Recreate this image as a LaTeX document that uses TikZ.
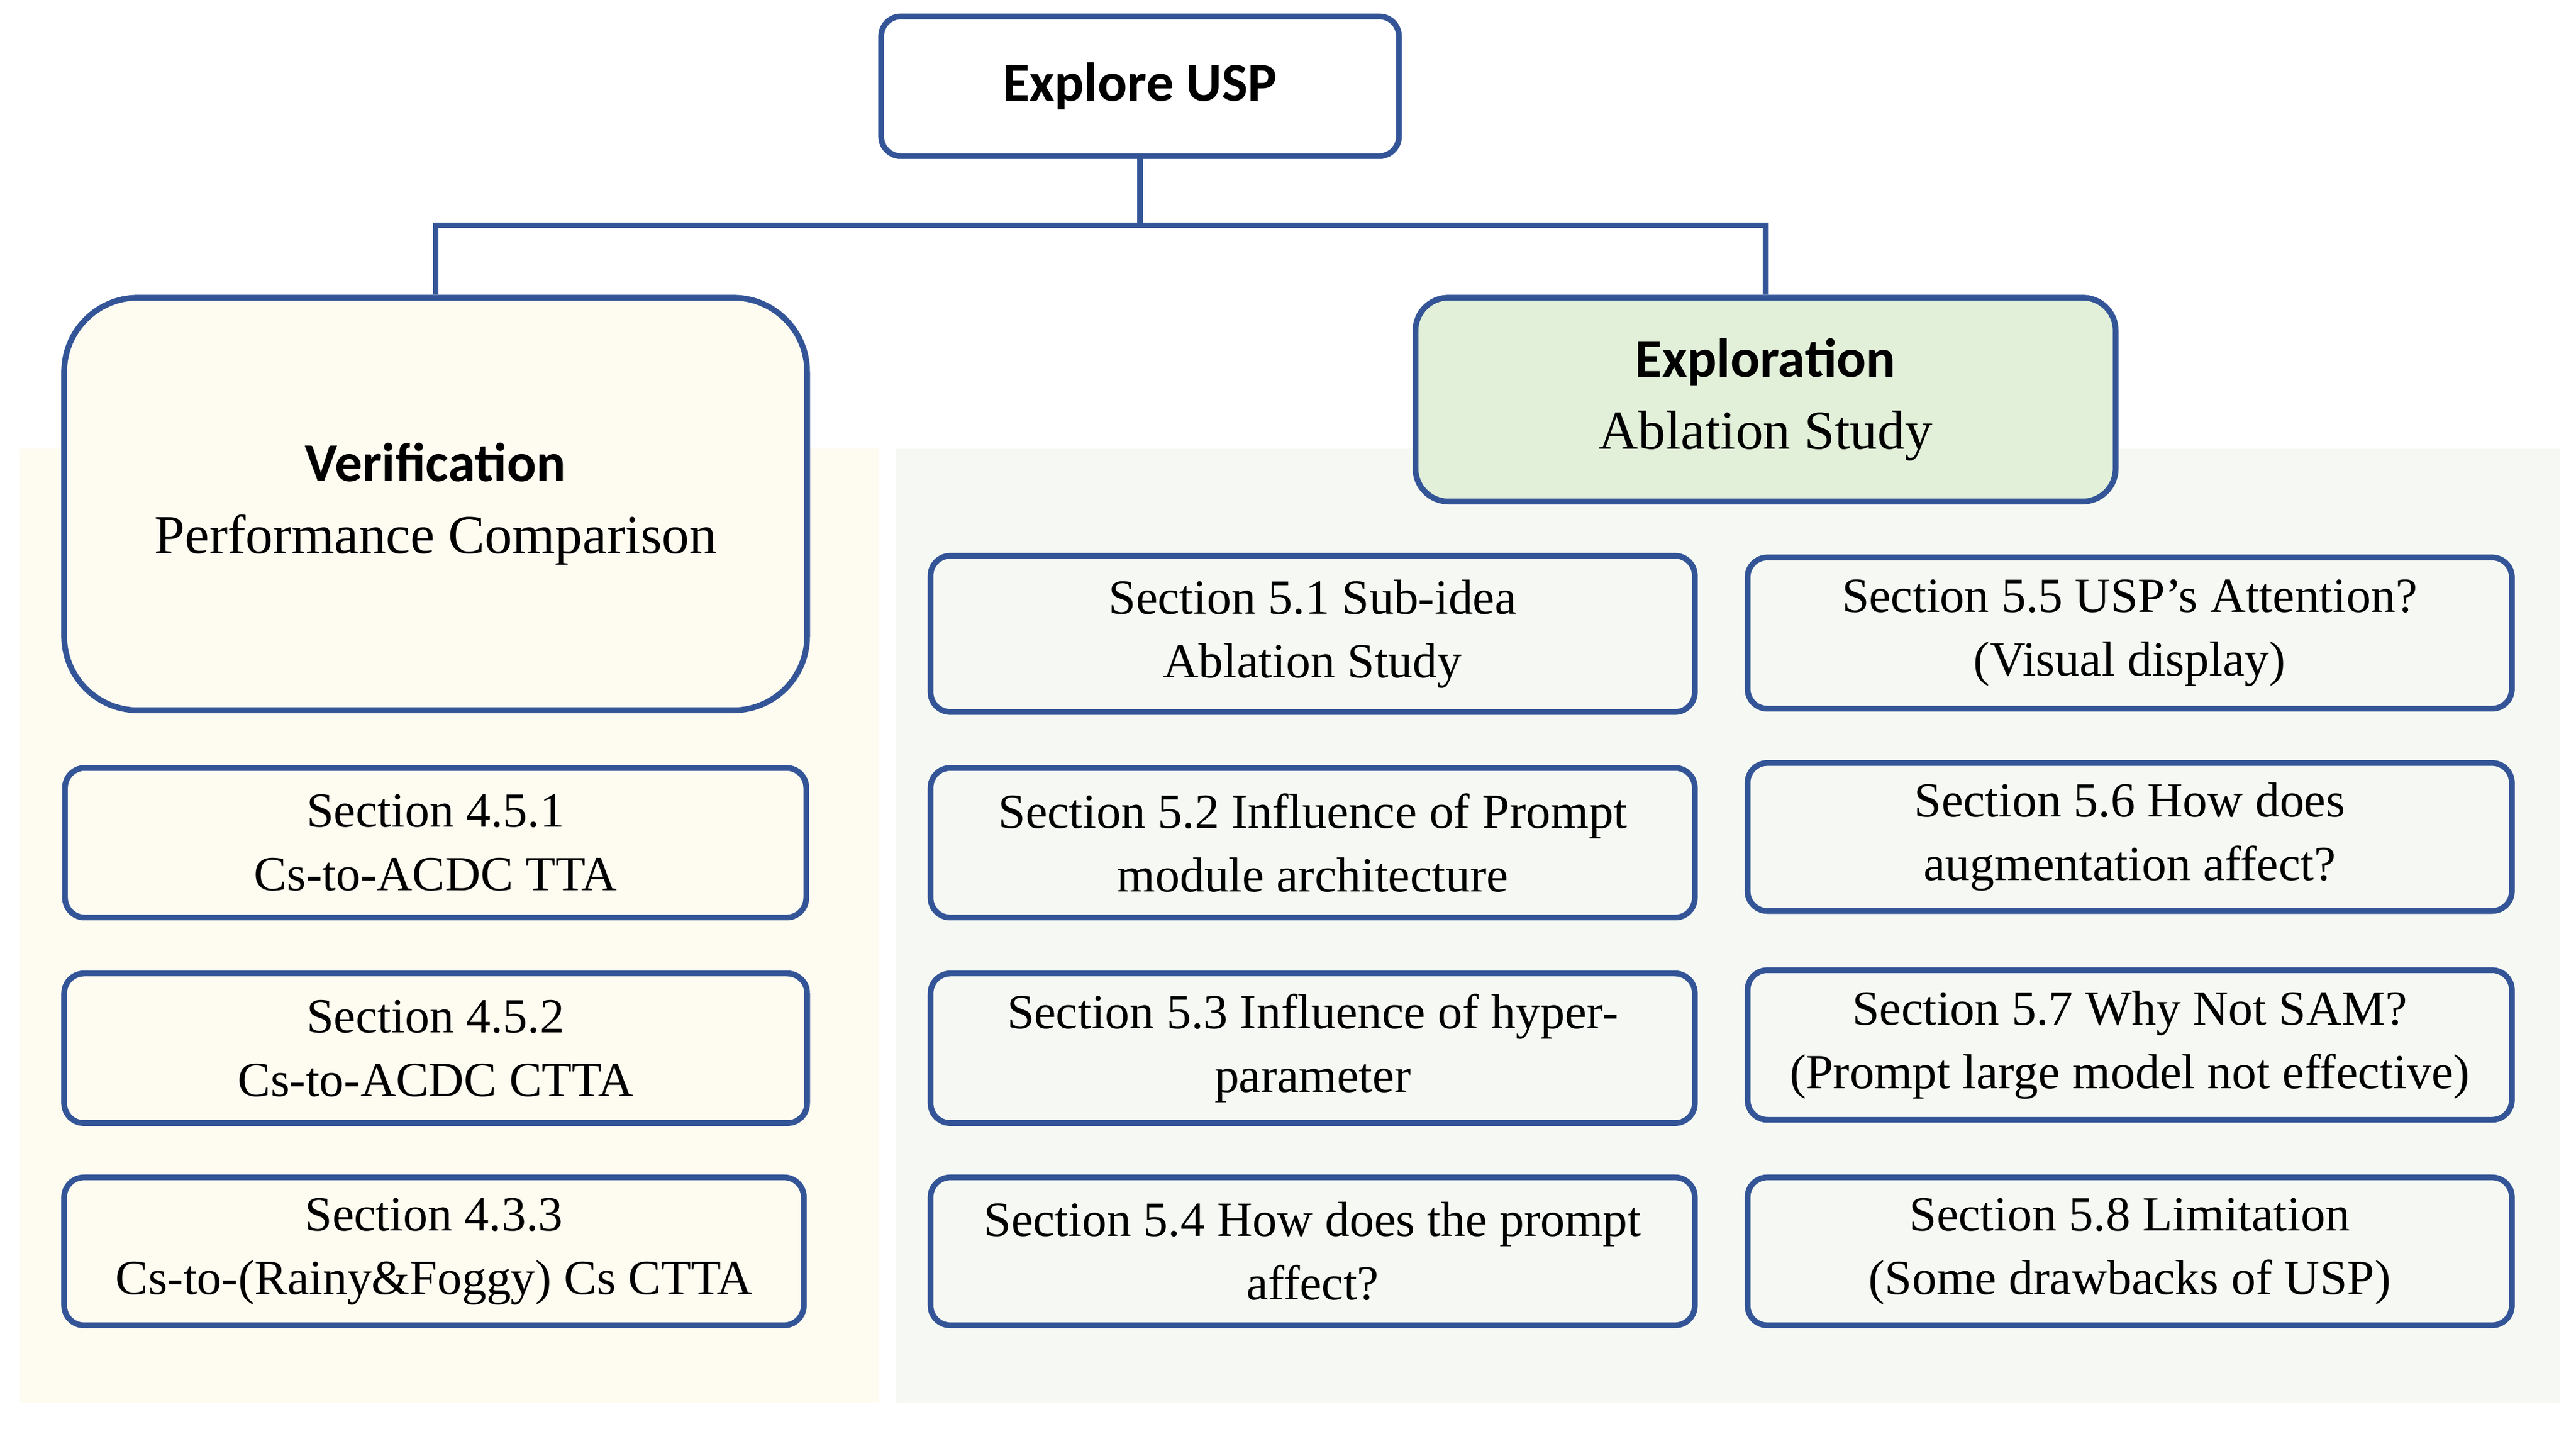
\documentclass[tikz,border=0pt]{standalone}
\usepackage{fontspec}
\setmainfont{Liberation Serif}
\newfontfamily\otsikko{Carlito}
\usepackage{tikz}

\definecolor{reuna}{RGB}{51,85,151}
\definecolor{kerma}{RGB}{254,251,241}
\definecolor{vaaleavihrea}{RGB}{246,249,243}
\definecolor{vihrea}{RGB}{226,240,217}

\begin{document}
\begin{tikzpicture}[x=0.02cm, y=-0.02cm,
	laatikko/.style={draw=reuna, line width=2pt, rounded corners=0.24cm, align=center, inner sep=0pt, font=\fontsize{17}{22}\selectfont},
	iso/.style={laatikko, font=\fontsize{19}{25}\selectfont},
	yhteys/.style={draw=reuna, line width=2pt}]
	\useasboundingbox (0,0) rectangle (1567,868.7);  % Kuvan rajat
	
	% Taustalaatikot
	\fill[kerma] (12,273) rectangle (535,853);  % Vasen tausta
	\fill[vaaleavihrea] (545,273) rectangle (1557,853);  % Oikea tausta
	
	% Juurisolmu
	\node[iso, fill=white, minimum width=6.3cm, minimum height=1.7cm] (juuri) at (693.5,52.5) {{\otsikko\bfseries Explore USP}};
	
	% Päähaarat
	\node[iso, fill=kerma, rounded corners=0.9cm, minimum width=9.04cm, minimum height=5.02cm] (varmistus) at (265,306.5) {{\otsikko\bfseries Verification}\\Performance Comparison};
	\node[iso, fill=vihrea, rounded corners=0.4cm, minimum width=8.52cm, minimum height=2.48cm] (tutkimus) at (1074,243) {{\otsikko\bfseries Exploration}\\Ablation Study};
	
	% Yhteydet
	\coordinate (haara) at (693.5,137);  % Haarautumiskohta
	\draw[yhteys] (juuri.south) -- (haara);
	\draw[yhteys] (haara) -| (varmistus.north);
	\draw[yhteys] (haara) -| (tutkimus.north);
	
	% Vasen sarake
	\node[laatikko, fill=kerma, minimum width=9.02cm, minimum height=1.82cm] (s451) at (265,512.5) {Section 4.5.1\\Cs-to-ACDC TTA};
	\node[laatikko, fill=kerma, minimum width=9.04cm, minimum height=1.82cm] (s452) at (265,637.5) {Section 4.5.2\\Cs-to-ACDC CTTA};
	\node[laatikko, fill=kerma, minimum width=9.0cm, minimum height=1.8cm] (s433) at (264,761) {Section 4.3.3\\Cs-to-(Rainy\&Foggy) Cs CTTA};
	
	% Keskisarake
	\node[laatikko, fill=vaaleavihrea, minimum width=9.3cm, minimum height=1.9cm] (s51) at (798.5,385.5) {Section 5.1 Sub-idea\\Ablation Study};
	\node[laatikko, fill=vaaleavihrea, minimum width=9.3cm, minimum height=1.82cm] (s52) at (798.5,512.5) {Section 5.2 Influence of Prompt\\module architecture};
	\node[laatikko, fill=vaaleavihrea, minimum width=9.3cm, minimum height=1.82cm] (s53) at (798.5,637.5) {Section 5.3 Influence of hyper-\\parameter};
	\node[laatikko, fill=vaaleavihrea, minimum width=9.3cm, minimum height=1.8cm] (s54) at (798.5,761) {Section 5.4 How does the prompt\\affect?};
	
	% Oikea sarake
	\node[laatikko, fill=vaaleavihrea, minimum width=9.3cm, minimum height=1.84cm] (s55) at (1295.5,385) {Section 5.5 USP’s Attention?\\(Visual display)};
	\node[laatikko, fill=vaaleavihrea, minimum width=9.3cm, minimum height=1.8cm] (s56) at (1295.5,509) {Section 5.6 How does\\augmentation affect?};
	\node[laatikko, fill=vaaleavihrea, minimum width=9.3cm, minimum height=1.82cm] (s57) at (1295.5,635.5) {Section 5.7 Why Not SAM?\\(Prompt large model not effective)};
	\node[laatikko, fill=vaaleavihrea, minimum width=9.3cm, minimum height=1.8cm] (s58) at (1295.5,761) {Section 5.8 Limitation\\(Some drawbacks of USP)};
\end{tikzpicture}
\end{document}
